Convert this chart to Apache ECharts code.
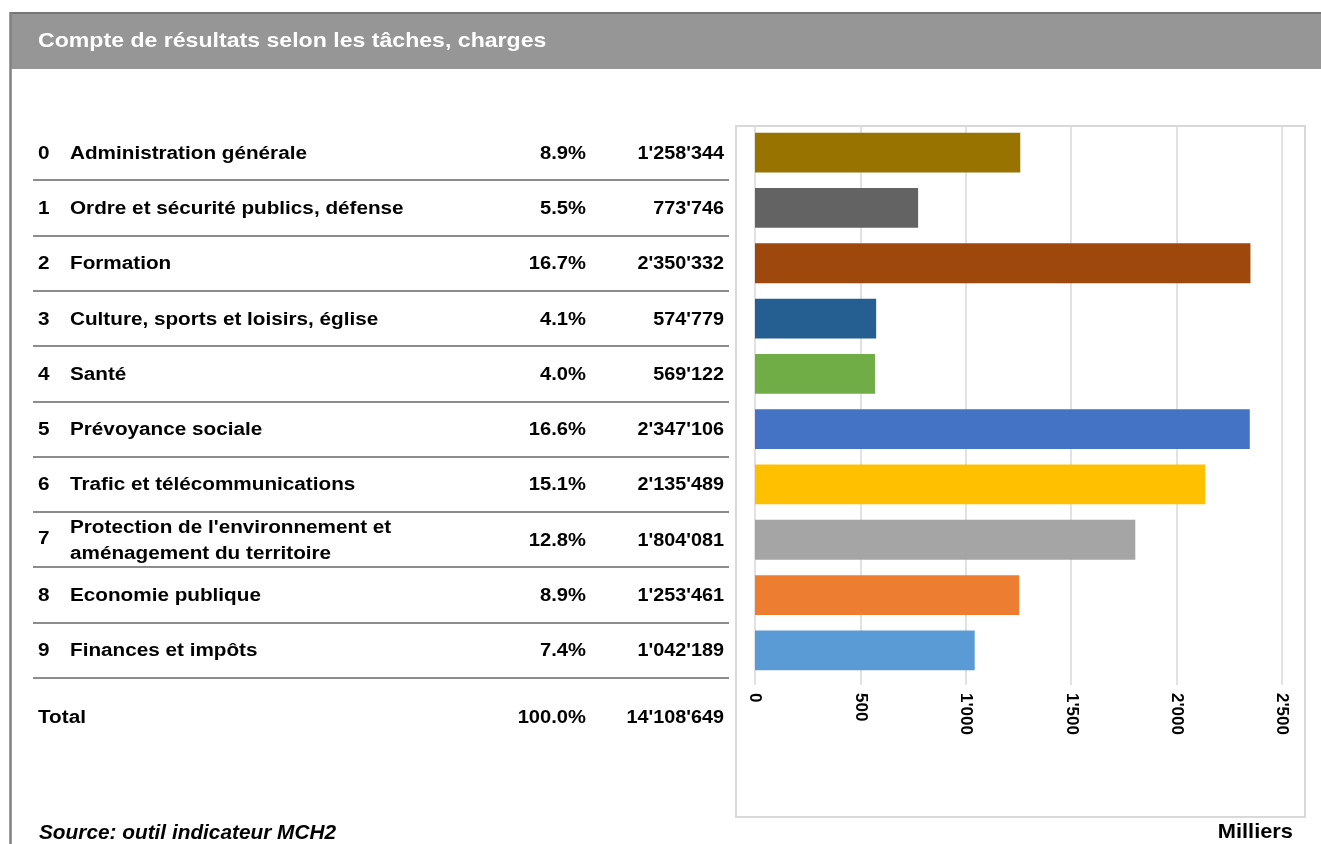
<!DOCTYPE html>
<html>
<head>
<meta charset="utf-8">
<title>Compte de résultats selon les tâches, charges</title>
<script src="https://cdn.jsdelivr.net/npm/echarts@6/dist/echarts.min.js"></script>
<style>
  html, body { margin: 0; padding: 0; background: #fff; }
  #main { width: 1321px; height: 844px; }
</style>
</head>
<body>
<div id="main"></div>
<script>
// donnees
const codes = ['0', '1', '2', '3', '4', '5', '6', '7', '8', '9'];
const tasks = [
  'Administration générale',
  'Ordre et sécurité publics, défense',
  'Formation',
  'Culture, sports et loisirs, église',
  'Santé',
  'Prévoyance sociale',
  'Trafic et télécommunications',
  "Protection de l'environnement et\naménagement du territoire",
  'Economie publique',
  'Finances et impôts'
];
const charges = [1258344, 773746, 2350332, 574779, 569122, 2347106, 2135489, 1804081, 1253461, 1042189];
const shares = ['8.9%', '5.5%', '16.7%', '4.1%', '4.0%', '16.6%', '15.1%', '12.8%', '8.9%', '7.4%'];
const totalCharges = 14108649;
const totalShare = '100.0%';
const barColors = ['#997300', '#636363', '#9e480e', '#255e91', '#70ad47', '#4472c4', '#ffc000', '#a5a5a5', '#ed7d31', '#5b9bd5'];

const FONT = '"Liberation Sans", Arial, sans-serif';

function fmt(n) {
  return String(n).replace(/\B(?=(\d{3})+(?!\d))/g, "'");
}

// texte en graphic (legerement etire comme dans l'original)
function txt(x, y, s, size, align, opt) {
  opt = opt || {};
  return {
    type: 'text',
    x: x,
    y: y,
    scaleX: opt.sx || 1.15,
    silent: true,
    style: {
      text: s,
      fill: opt.color || '#000',
      font: (opt.italic ? 'italic ' : '') + 'bold ' + size + 'px ' + FONT,
      textAlign: align,
      textVerticalAlign: 'middle',
      lineHeight: opt.lh || size * 1.45
    }
  };
}

let chart = echarts.init(document.getElementById('main'));

let option = {
  animation: false,
  backgroundColor: '#fff',
  grid: {
    left: 755,
    top: 125,
    width: 527,
    height: 553,
    containLabel: false,
    outerBoundsMode: 'none'
  },
  xAxis: {
    type: 'value',
    min: 0,
    max: 2500000,
    interval: 500000,
    axisLine: { show: false },
    axisTick: { show: true, length: 7, lineStyle: { color: '#d9d9d9', width: 1.5 } },
    splitLine: { show: true, lineStyle: { color: '#d9d9d9', width: 1.5 } },
    axisLabel: {
      rotate: -90,
      margin: 15,
      color: '#000',
      fontFamily: FONT,
      fontWeight: 'bold',
      fontSize: 17,
      formatter: function (v) { return fmt(v / 1000); }
    }
  },
  yAxis: {
    type: 'category',
    inverse: true,
    data: tasks,
    axisLine: { show: false },
    axisTick: { show: false },
    axisLabel: { show: false }
  },
  series: [
    {
      type: 'bar',
      barCategoryGap: '28%',
      data: charges.map((v, i) => ({ value: v, itemStyle: { color: barColors[i] } }))
    }
  ]
};

chart.setOption(option);

// positions des lignes du tableau depuis l'axe des categories
let rowY = tasks.map((t, i) => chart.convertToPixel({ yAxisIndex: 0 }, i));
let step = rowY[1] - rowY[0];

let g = [];
// cadre general
g.push({ type: 'rect', shape: { x: 10, y: 12, width: 1320, height: 57 }, style: { fill: '#969696' }, silent: true });
g.push({ type: 'line', shape: { x1: 10, y1: 13, x2: 1321, y2: 13 }, style: { stroke: '#767676', lineWidth: 2 }, silent: true });
g.push({ type: 'line', shape: { x1: 10.5, y1: 12, x2: 10.5, y2: 844 }, style: { stroke: '#808080', lineWidth: 2.5 }, silent: true });
g.push(txt(38, 41, 'Compte de résultats selon les tâches, charges', 21, 'left', { color: '#fff', sx: 1.1 }));
// cadre du graphique
g.push({ type: 'rect', shape: { x: 736, y: 126, width: 569, height: 691 }, style: { fill: 'none', stroke: '#d9d9d9', lineWidth: 2 }, silent: true, z: -1 });

tasks.forEach((t, i) => {
  let y = rowY[i] + 1;
  g.push(txt(38, i === 7 ? y - 2 : y, codes[i], 18, 'left'));
  g.push(txt(70, y, t, 18, 'left', { lh: 26 }));
  g.push(txt(586, y, shares[i], 18, 'right', { sx: 1.12 }));
  g.push(txt(724, y, fmt(charges[i]), 18, 'right', { sx: 1.1 }));
  let ly = Math.round(rowY[i] + step / 2);
  g.push({ type: 'line', shape: { x1: 33, y1: ly, x2: 729, y2: ly }, style: { stroke: '#8c8c8c', lineWidth: 2 }, silent: true });
});

let totalY = rowY[9] + step * 1.22;
g.push(txt(38, totalY, 'Total', 18, 'left'));
g.push(txt(586, totalY, totalShare, 18, 'right', { sx: 1.12 }));
g.push(txt(724, totalY, fmt(totalCharges), 18, 'right', { sx: 1.1 }));

g.push(txt(39, 833, 'Source: outil indicateur MCH2', 20, 'left', { italic: true, sx: 1.04 }));
g.push(txt(1293, 832, 'Milliers', 21, 'right', { sx: 1.04 }));

chart.setOption({ graphic: g });

window.addEventListener('resize', function () {
  chart.resize();
});
</script>
</body>
</html>
